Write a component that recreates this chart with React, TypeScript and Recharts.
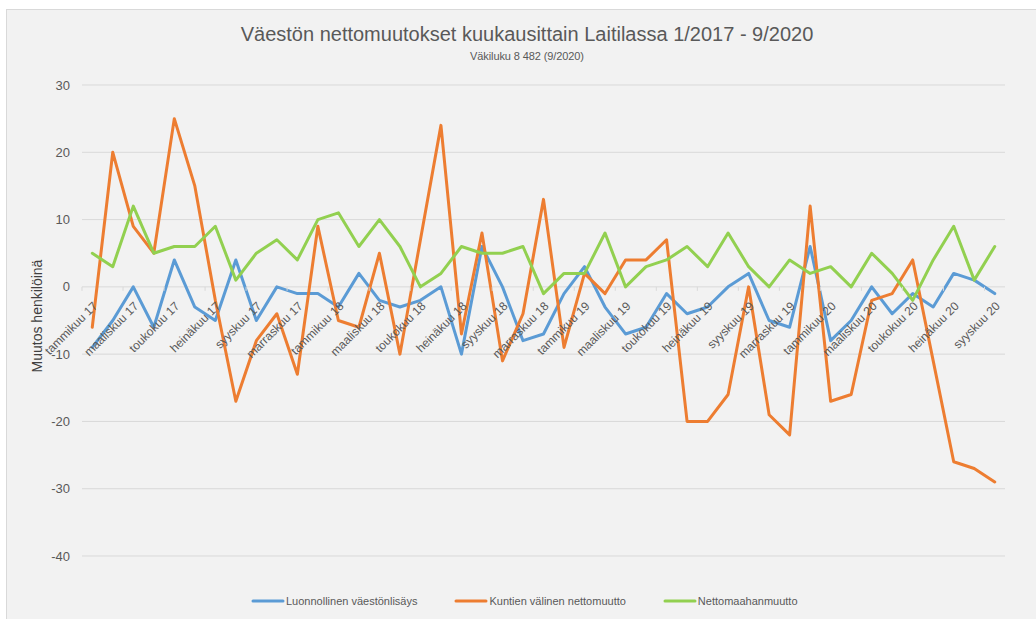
import React from 'react';
import { LineChart, Line, XAxis, YAxis, CartesianGrid, Legend } from 'recharts';

const categories = [
  'tammikuu 17', 'helmikuu 17', 'maaliskuu 17', 'huhtikuu 17', 'toukokuu 17', 'kesäkuu 17',
  'heinäkuu 17', 'elokuu 17', 'syyskuu 17', 'lokakuu 17', 'marraskuu 17', 'joulukuu 17',
  'tammikuu 18', 'helmikuu 18', 'maaliskuu 18', 'huhtikuu 18', 'toukokuu 18', 'kesäkuu 18',
  'heinäkuu 18', 'elokuu 18', 'syyskuu 18', 'lokakuu 18', 'marraskuu 18', 'joulukuu 18',
  'tammikuu 19', 'helmikuu 19', 'maaliskuu 19', 'huhtikuu 19', 'toukokuu 19', 'kesäkuu 19',
  'heinäkuu 19', 'elokuu 19', 'syyskuu 19', 'lokakuu 19', 'marraskuu 19', 'joulukuu 19',
  'tammikuu 20', 'helmikuu 20', 'maaliskuu 20', 'huhtikuu 20', 'toukokuu 20', 'kesäkuu 20',
  'heinäkuu 20', 'elokuu 20', 'syyskuu 20',
];

const luonnollinen = [
  -9, -5, 0, -6, 4, -3, -5, 4, -5, 0, -1, -1,
  -3, 2, -2, -3, -2, 0, -10, 6, 0, -8, -7, -1,
  3, -3, -7, -6, -1, -4, -3, 0, 2, -5, -6, 6,
  -8, -5, 0, -4, -1, -3, 2, 1, -1,
];

const kuntienValinen = [
  -6, 20, 9, 5, 25, 15, -2, -17, -8, -4, -13, 9,
  -5, -6, 5, -10, 7, 24, -7, 8, -11, -4, 13, -9,
  2, -1, 4, 4, 7, -20, -20, -16, 0, -19, -22, 12,
  -17, -16, -2, -1, 4, -11, -26, -27, -29,
];

const nettomaahanmuutto = [
  5, 3, 12, 5, 6, 6, 9, 1, 5, 7, 4, 10,
  11, 6, 10, 6, 0, 2, 6, 5, 5, 6, -1, 2,
  2, 8, 0, 3, 4, 6, 3, 8, 3, 0, 4, 2,
  3, 0, 5, 2, -2, 4, 9, 1, 6,
];

const yTicks = [-40, -30, -20, -10, 0, 10, 20, 30];
const Y_MIN = -40;
const Y_MAX = 30;

const seriesNames = ['Luonnollinen väestönlisäys', 'Kuntien välinen nettomuutto', 'Nettomaahanmuutto'];
const seriesColors = ['#5B9BD5', '#ED7D31', '#92D050'];

const data = categories.map((month, i) => ({
  month,
  luonnollinen: luonnollinen[i],
  kunnat: kuntienValinen[i],
  maahanmuutto: nettomaahanmuutto[i],
}));

const W = 1036;
const H = 619;
const MARGIN = { top: 85, right: 31, left: 22, bottom: 33 };
const Y_AXIS_W = 60;
const X_AXIS_H = 10;
const LEGEND_H = 20;
const PLOT_W = W - MARGIN.left - MARGIN.right - Y_AXIS_W;
const PLOT_H = H - MARGIN.top - MARGIN.bottom - X_AXIS_H - LEGEND_H;
const BAND = PLOT_W / categories.length;
const FONT = '"Liberation Sans", Arial, sans-serif';
const TEXT_COLOR = '#595959';

const XTick = (props: any) => {
  const { x, y, payload } = props;
  const zeroY = y - (PLOT_H * (0 - Y_MIN)) / (Y_MAX - Y_MIN);
  const ax = x + 6;
  const ay = zeroY + 20;
  return (
    <g>
      <line x1={x - BAND / 2} y1={zeroY} x2={x - BAND / 2} y2={zeroY + 4} stroke="#d9d9d9" strokeWidth={1} />
      <text
        x={ax}
        y={ay}
        transform={`rotate(-45, ${ax}, ${ay})`}
        textAnchor="end"
        fontSize={12}
        fill={TEXT_COLOR}
        fontFamily={FONT}
      >
        {payload.value}
      </text>
    </g>
  );
};

const LegendContent = (props: any) => {
  const payload = [...(props.payload || [])].sort(
    (a: any, b: any) => seriesNames.indexOf(a.value) - seriesNames.indexOf(b.value),
  );
  return (
    <div style={{ height: LEGEND_H, display: 'flex', alignItems: 'center', paddingLeft: 251, boxSizing: 'border-box' }}>
      {payload.map((entry: any, i: number) => (
        <div key={i} style={{ display: 'flex', alignItems: 'center', marginRight: 37 }}>
          <svg width={34} height={6} style={{ display: 'block' }}>
            <line x1={2} y1={3} x2={32} y2={3} stroke={entry.color} strokeWidth={3} strokeLinecap="round" />
          </svg>
          <span style={{ fontSize: 11, color: TEXT_COLOR, fontFamily: FONT, marginLeft: 1, whiteSpace: 'nowrap' }}>
            {entry.value}
          </span>
        </div>
      ))}
    </div>
  );
};

export default function App() {
  return (
    <div style={{ position: 'fixed', left: 0, top: 0, width: W, height: H, background: '#ffffff', overflow: 'hidden' }}>
      <div
        style={{
          position: 'absolute', left: 6, top: 9, width: W, height: H,
          borderTop: '1px solid #d9d9d9', borderLeft: '1px solid #d9d9d9', background: '#f2f2f2',
        }}
      />
      <div style={{ position: 'absolute', left: 0, top: 23, width: 1054, textAlign: 'center', fontFamily: FONT, fontSize: 20, color: TEXT_COLOR }}>
        Väestön nettomuutokset kuukausittain Laitilassa 1/2017 - 9/2020
      </div>
      <div style={{ position: 'absolute', left: 0, top: 50, width: 1054, textAlign: 'center', fontFamily: FONT, fontSize: 11, color: TEXT_COLOR, letterSpacing: -0.1 }}>
        Väkiluku 8 482 (9/2020)
      </div>
      <div
        style={{
          position: 'absolute', left: 37, top: 316, width: 0, height: 0,
        }}
      >
        <div style={{ position: 'absolute', left: -100, top: -9, width: 200, textAlign: 'center', transform: 'rotate(-90deg)', fontFamily: FONT, fontSize: 14, color: '#404040', lineHeight: '18px' }}>
          Muutos henkilöinä
        </div>
      </div>
      <div style={{ position: 'absolute', left: 0, top: 0 }}>
        <LineChart width={W} height={H} data={data} margin={MARGIN}>
          <CartesianGrid vertical={false} stroke="#d9d9d9" strokeWidth={1} />
          <XAxis
            dataKey="month"
            scale="band"
            interval={1}
            height={X_AXIS_H}
            axisLine={false}
            tickLine={false}
            tickSize={0}
            tickMargin={0}
            tick={<XTick />}
          />
          <YAxis
            type="number"
            domain={[Y_MIN, Y_MAX]}
            ticks={yTicks}
            width={Y_AXIS_W}
            axisLine={false}
            tickLine={false}
            tickSize={0}
            tickMargin={12}
            tick={{ fontSize: 13, fill: TEXT_COLOR, fontFamily: FONT }}
          />
          <Legend
            verticalAlign="bottom"
            content={<LegendContent />}
            wrapperStyle={{ left: 0, width: W, bottom: 8 }}
          />
          <Line type="linear" dataKey="luonnollinen" name={seriesNames[0]} stroke={seriesColors[0]} strokeWidth={3} dot={false} strokeLinejoin="round" strokeLinecap="round" isAnimationActive={false} />
          <Line type="linear" dataKey="kunnat" name={seriesNames[1]} stroke={seriesColors[1]} strokeWidth={3} dot={false} strokeLinejoin="round" strokeLinecap="round" isAnimationActive={false} />
          <Line type="linear" dataKey="maahanmuutto" name={seriesNames[2]} stroke={seriesColors[2]} strokeWidth={3} dot={false} strokeLinejoin="round" strokeLinecap="round" isAnimationActive={false} />
        </LineChart>
      </div>
    </div>
  );
}
